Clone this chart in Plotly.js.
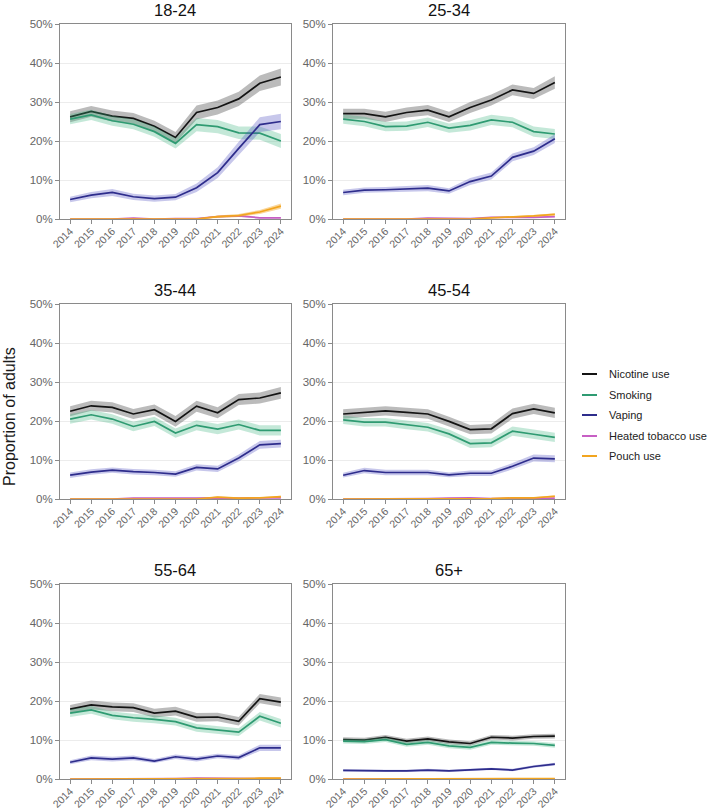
<!DOCTYPE html>
<html>
<head>
<meta charset="utf-8">
<script src="https://cdn.plot.ly/plotly-3.0.1.min.js"></script>
<style>
  html, body { margin: 0; padding: 0; background: #fff; }
  #chart { width: 709px; height: 811px; }
</style>
</head>
<body>
<div id="chart"></div>
<script>
// Survey years
const years = [2014, 2015, 2016, 2017, 2018, 2019, 2020, 2021, 2022, 2023, 2024];
const ageGroups = ['18-24', '25-34', '35-44', '45-54', '55-64', '65+'];
const seriesNames = ['Nicotine use', 'Smoking', 'Vaping', 'Heated tobacco use', 'Pouch use'];
const yTicks = [0, 10, 20, 30, 40, 50];
const yTickLabels = ['0%', '10%', '20%', '30%', '40%', '50%'];

// Prevalence (%) by age group; *CI = half-width of the 95% interval (percentage points)
const nic_18_24 = [26.2, 27.6, 26.4, 25.8, 23.8, 20.9, 27.3, 28.6, 30.8, 34.8, 36.4];
const smk_18_24 = [25.6, 26.7, 25.2, 24.3, 22.4, 19.4, 24.2, 23.7, 22.1, 22.0, 20.0];
const vap_18_24 = [5.0, 6.1, 6.8, 5.7, 5.2, 5.6, 8.0, 11.9, 18.1, 24.2, 25.0];
const htp_18_24 = [0, 0, 0, 0.2, 0, 0.1, 0.1, 0.6, 0.8, 0.3, 0.3];
const pch_18_24 = [0, 0, 0, 0, 0, 0, 0, 0.6, 0.9, 1.8, 3.3];
const nicCI_18_24 = [1.4, 1.4, 1.4, 1.4, 1.4, 1.4, 1.8, 1.8, 1.8, 2.0, 2.2];
const smkCI_18_24 = [1.3, 1.3, 1.3, 1.3, 1.3, 1.3, 1.7, 1.7, 1.6, 1.7, 1.8];
const vapCI_18_24 = [0.7, 0.8, 0.9, 0.8, 0.8, 0.8, 1.1, 1.4, 1.7, 1.9, 2.0];
const htpCI_18_24 = [0, 0, 0, 0.1, 0, 0.1, 0.1, 0.2, 0.3, 0.2, 0.2];
const pchCI_18_24 = [0, 0, 0, 0, 0, 0, 0.1, 0.3, 0.4, 0.5, 0.7];

const nic_25_34 = [27.0, 27.0, 26.2, 27.3, 27.9, 26.2, 28.6, 30.5, 33.1, 32.2, 35.0];
const smk_25_34 = [25.6, 25.0, 23.7, 23.8, 24.8, 23.3, 24.0, 25.4, 24.8, 22.4, 21.8];
const vap_25_34 = [6.8, 7.4, 7.5, 7.7, 7.9, 7.2, 9.6, 11.0, 15.8, 17.4, 20.6];
const htp_25_34 = [0, 0, 0, 0, 0.2, 0.1, 0.1, 0.4, 0.4, 0.4, 0.6];
const pch_25_34 = [0, 0, 0, 0, 0, 0, 0, 0.3, 0.5, 0.8, 1.2];
const nicCI_25_34 = [1.3, 1.3, 1.3, 1.3, 1.3, 1.3, 1.4, 1.4, 1.4, 1.4, 1.6];
const smkCI_25_34 = [1.2, 1.2, 1.2, 1.2, 1.2, 1.2, 1.3, 1.3, 1.3, 1.3, 1.3];
const vapCI_25_34 = [0.7, 0.7, 0.7, 0.7, 0.8, 0.7, 0.9, 0.9, 1.0, 1.0, 1.1];
const htpCI_25_34 = [0, 0, 0, 0, 0.1, 0.05, 0.05, 0.15, 0.15, 0.15, 0.2];
const pchCI_25_34 = [0, 0, 0, 0, 0, 0, 0, 0.1, 0.2, 0.2, 0.3];

const nic_35_44 = [22.5, 23.9, 23.5, 21.8, 22.9, 19.9, 23.8, 22.1, 25.5, 25.9, 27.2];
const smk_35_44 = [20.5, 21.6, 20.5, 18.6, 19.9, 16.9, 18.9, 17.9, 19.1, 17.6, 17.6];
const vap_35_44 = [6.1, 6.9, 7.4, 7.0, 6.8, 6.4, 8.1, 7.7, 10.5, 13.9, 14.2];
const htp_35_44 = [0, 0, 0, 0.2, 0.2, 0.1, 0.2, 0.3, 0.2, 0.3, 0.3];
const pch_35_44 = [0, 0, 0, 0, 0, 0, 0, 0.5, 0.2, 0.3, 0.6];
const nicCI_35_44 = [1.3, 1.3, 1.3, 1.3, 1.3, 1.4, 1.4, 1.4, 1.4, 1.4, 1.5];
const smkCI_35_44 = [1.2, 1.2, 1.2, 1.2, 1.2, 1.2, 1.3, 1.3, 1.3, 1.3, 1.3];
const vapCI_35_44 = [0.7, 0.7, 0.7, 0.7, 0.7, 0.7, 0.8, 0.8, 0.9, 1.0, 1.0];
const htpCI_35_44 = [0, 0, 0, 0.1, 0.1, 0.05, 0.1, 0.1, 0.1, 0.1, 0.1];
const pchCI_35_44 = [0, 0, 0, 0, 0, 0, 0, 0.2, 0.1, 0.15, 0.25];

const nic_45_54 = [21.8, 22.2, 22.6, 22.2, 21.8, 19.9, 17.8, 18.0, 21.9, 23.1, 22.1];
const smk_45_54 = [20.3, 19.7, 19.7, 19.0, 18.4, 16.7, 14.2, 14.4, 17.4, 16.6, 15.8];
const vap_45_54 = [6.1, 7.3, 6.8, 6.8, 6.8, 6.2, 6.6, 6.6, 8.4, 10.5, 10.3];
const htp_45_54 = [0, 0, 0, 0, 0.1, 0.2, 0.3, 0.1, 0.2, 0.1, 0.2];
const pch_45_54 = [0, 0, 0, 0, 0, 0, 0, 0.1, 0.3, 0.3, 0.7];
const nicCI_45_54 = [1.2, 1.2, 1.2, 1.2, 1.2, 1.2, 1.2, 1.2, 1.3, 1.3, 1.3];
const smkCI_45_54 = [1.1, 1.1, 1.1, 1.1, 1.1, 1.1, 1.1, 1.1, 1.2, 1.2, 1.2];
const vapCI_45_54 = [0.6, 0.7, 0.7, 0.7, 0.7, 0.6, 0.7, 0.7, 0.8, 0.9, 0.9];
const htpCI_45_54 = [0, 0, 0, 0, 0.05, 0.1, 0.1, 0.05, 0.1, 0.05, 0.1];
const pchCI_45_54 = [0, 0, 0, 0, 0, 0, 0, 0.05, 0.15, 0.15, 0.25];

const nic_55_64 = [17.9, 19.0, 18.5, 18.3, 16.9, 17.4, 15.8, 15.9, 14.8, 20.6, 19.7];
const smk_55_64 = [16.9, 17.7, 16.3, 15.7, 15.3, 14.7, 13.1, 12.6, 12.0, 16.1, 14.3];
const vap_55_64 = [4.3, 5.4, 5.1, 5.4, 4.6, 5.7, 5.1, 5.9, 5.5, 8.0, 8.0];
const htp_55_64 = [0, 0, 0, 0.1, 0.1, 0.1, 0.2, 0.2, 0.1, 0.1, 0.1];
const pch_55_64 = [0, 0, 0, 0, 0, 0, 0, 0.1, 0.1, 0.2, 0.2];
const nicCI_55_64 = [1.1, 1.1, 1.1, 1.1, 1.1, 1.1, 1.1, 1.1, 1.1, 1.2, 1.2];
const smkCI_55_64 = [1.0, 1.0, 1.0, 1.0, 1.0, 1.0, 1.0, 1.0, 1.0, 1.1, 1.1];
const vapCI_55_64 = [0.5, 0.6, 0.6, 0.6, 0.5, 0.6, 0.6, 0.6, 0.6, 0.8, 0.8];
const htpCI_55_64 = [0, 0, 0, 0.05, 0.05, 0.05, 0.1, 0.1, 0.05, 0.05, 0.05];
const pchCI_55_64 = [0, 0, 0, 0, 0, 0, 0, 0.05, 0.05, 0.1, 0.1];

const nic_65plus = [10.1, 10.0, 10.7, 9.7, 10.3, 9.5, 9.1, 10.7, 10.5, 10.9, 11.0];
const smk_65plus = [9.7, 9.6, 10.1, 8.9, 9.4, 8.5, 8.1, 9.4, 9.2, 9.1, 8.6];
const vap_65plus = [2.2, 2.1, 2.1, 2.1, 2.3, 2.1, 2.3, 2.6, 2.3, 3.2, 3.8];
const htp_65plus = [0, 0, 0, 0, 0, 0.05, 0.05, 0.05, 0.05, 0.05, 0.05];
const pch_65plus = [0, 0, 0, 0, 0, 0, 0, 0.05, 0.1, 0.15, 0.1];
const nicCI_65plus = [0.6, 0.6, 0.6, 0.6, 0.6, 0.6, 0.6, 0.6, 0.6, 0.6, 0.6];
const smkCI_65plus = [0.6, 0.6, 0.6, 0.6, 0.6, 0.6, 0.6, 0.6, 0.6, 0.6, 0.6];
const vapCI_65plus = [0.3, 0.3, 0.3, 0.3, 0.3, 0.3, 0.3, 0.3, 0.3, 0.3, 0.35];
const htpCI_65plus = [0, 0, 0, 0, 0, 0.03, 0.03, 0.03, 0.03, 0.03, 0.03];
const pchCI_65plus = [0, 0, 0, 0, 0, 0, 0, 0.03, 0.05, 0.05, 0.05];

// Line and band colours per series
const lineColors = ['#141414', '#2f9b72', '#2e2d8c', '#c75fc4', '#f2a51f'];
const bandColors = [
  'rgba(30,30,30,0.30)',
  'rgba(60,180,125,0.30)',
  'rgba(70,70,190,0.30)',
  'rgba(200,95,196,0.30)',
  'rgba(245,165,30,0.45)'
];

const panelSeries = [
  [nic_18_24, smk_18_24, vap_18_24, htp_18_24, pch_18_24],
  [nic_25_34, smk_25_34, vap_25_34, htp_25_34, pch_25_34],
  [nic_35_44, smk_35_44, vap_35_44, htp_35_44, pch_35_44],
  [nic_45_54, smk_45_54, vap_45_54, htp_45_54, pch_45_54],
  [nic_55_64, smk_55_64, vap_55_64, htp_55_64, pch_55_64],
  [nic_65plus, smk_65plus, vap_65plus, htp_65plus, pch_65plus]
];
const panelCI = [
  [nicCI_18_24, smkCI_18_24, vapCI_18_24, htpCI_18_24, pchCI_18_24],
  [nicCI_25_34, smkCI_25_34, vapCI_25_34, htpCI_25_34, pchCI_25_34],
  [nicCI_35_44, smkCI_35_44, vapCI_35_44, htpCI_35_44, pchCI_35_44],
  [nicCI_45_54, smkCI_45_54, vapCI_45_54, htpCI_45_54, pchCI_45_54],
  [nicCI_55_64, smkCI_55_64, vapCI_55_64, htpCI_55_64, pchCI_55_64],
  [nicCI_65plus, smkCI_65plus, vapCI_65plus, htpCI_65plus, pchCI_65plus]
];

// Page geometry (pixels) of the 3x2 grid of panels
const W = 709, H = 811;
const colPx = [[60, 291], [333, 565]];
const rowPx = [[24, 219], [304, 499], [584, 779]];
const FONT = 'Liberation Sans, Arial, Helvetica, sans-serif';

const traces = [];
const layout = {
  width: W, height: H,
  margin: {l: 0, r: 0, t: 0, b: 0},
  paper_bgcolor: '#ffffff',
  plot_bgcolor: '#ffffff',
  showlegend: false,
  font: {family: FONT},
  annotations: [],
  shapes: []
};

ageGroups.forEach((grp, p) => {
  const col = p % 2, row = Math.floor(p / 2);
  const sfx = p === 0 ? '' : String(p + 1);
  const xName = 'x' + sfx, yName = 'y' + sfx;
  const xd = [colPx[col][0] / W, colPx[col][1] / W];
  const yd = [1 - rowPx[row][1] / H, 1 - rowPx[row][0] / H];

  layout['xaxis' + sfx] = {
    domain: xd, anchor: yName,
    range: [2013.52, 2024.48],
    tickmode: 'array', tickvals: years, ticktext: years.map(String),
    tickangle: -45,
    ticks: 'outside', ticklen: 4, tickwidth: 1, tickcolor: '#8a8a8a',
    ticklabelstandoff: -3,
    showline: true, mirror: true, linecolor: '#8a8a8a', linewidth: 1,
    showgrid: false, zeroline: false,
    tickfont: {family: FONT, size: 10.5, color: '#666666'},
    fixedrange: true
  };
  layout['yaxis' + sfx] = {
    domain: yd, anchor: xName,
    range: [0, 50],
    tickmode: 'array', tickvals: yTicks, ticktext: yTickLabels,
    ticks: 'outside', ticklen: 4, tickwidth: 1, tickcolor: '#8a8a8a',
    showline: true, mirror: true, linecolor: '#8a8a8a', linewidth: 1,
    showgrid: true, gridcolor: '#ececec', gridwidth: 1,
    zeroline: false,
    tickfont: {family: FONT, size: 11.5, color: '#666666'},
    fixedrange: true
  };

  // Panel title
  layout.annotations.push({
    text: grp, xref: 'paper', yref: 'paper',
    x: (xd[0] + xd[1]) / 2, y: yd[1], xanchor: 'center', yanchor: 'bottom',
    yshift: 3, showarrow: false,
    font: {family: FONT, size: 16.5, color: '#111111'}
  });

  const series = panelSeries[p];
  const cis = panelCI[p];
  series.forEach((vals, s) => {
    const upper = vals.map((v, i) => v + cis[s][i]);
    const lower = vals.map((v, i) => Math.max(0, v - cis[s][i]));
    // Confidence band
    traces.push({
      x: years.concat(years.slice().reverse()),
      y: upper.concat(lower.slice().reverse()),
      xaxis: xName, yaxis: yName,
      type: 'scatter', mode: 'lines',
      fill: 'toself', fillcolor: bandColors[s],
      line: {width: 0, color: 'rgba(0,0,0,0)'},
      hoverinfo: 'skip', showlegend: false
    });
    // Point estimate
    traces.push({
      x: years, y: vals,
      xaxis: xName, yaxis: yName,
      type: 'scatter', mode: 'lines',
      name: seriesNames[s],
      line: {color: lineColors[s], width: 1.7},
      showlegend: false
    });
  });
});

// Shared y-axis title
layout.annotations.push({
  text: 'Proportion of adults', xref: 'paper', yref: 'paper',
  x: 9 / W, y: 1 - 417 / H, xanchor: 'center', yanchor: 'middle',
  textangle: -90, showarrow: false,
  font: {family: FONT, size: 16, color: '#1a1a1a'}
});

// Legend keys
const legendY = [374, 395, 415, 436, 456];
seriesNames.forEach((nm, s) => {
  const yp = 1 - legendY[s] / H;
  layout.shapes.push({
    type: 'line', xref: 'paper', yref: 'paper',
    x0: 582 / W, x1: 597 / W, y0: yp, y1: yp,
    line: {color: lineColors[s], width: 2}
  });
  layout.annotations.push({
    text: nm, xref: 'paper', yref: 'paper',
    x: 607 / W, y: yp, xanchor: 'left', yanchor: 'middle',
    showarrow: false,
    font: {family: FONT, size: 11, color: '#222222'}
  });
});

Plotly.newPlot('chart', traces, layout, {displayModeBar: false, staticPlot: true});
</script>
</body>
</html>
